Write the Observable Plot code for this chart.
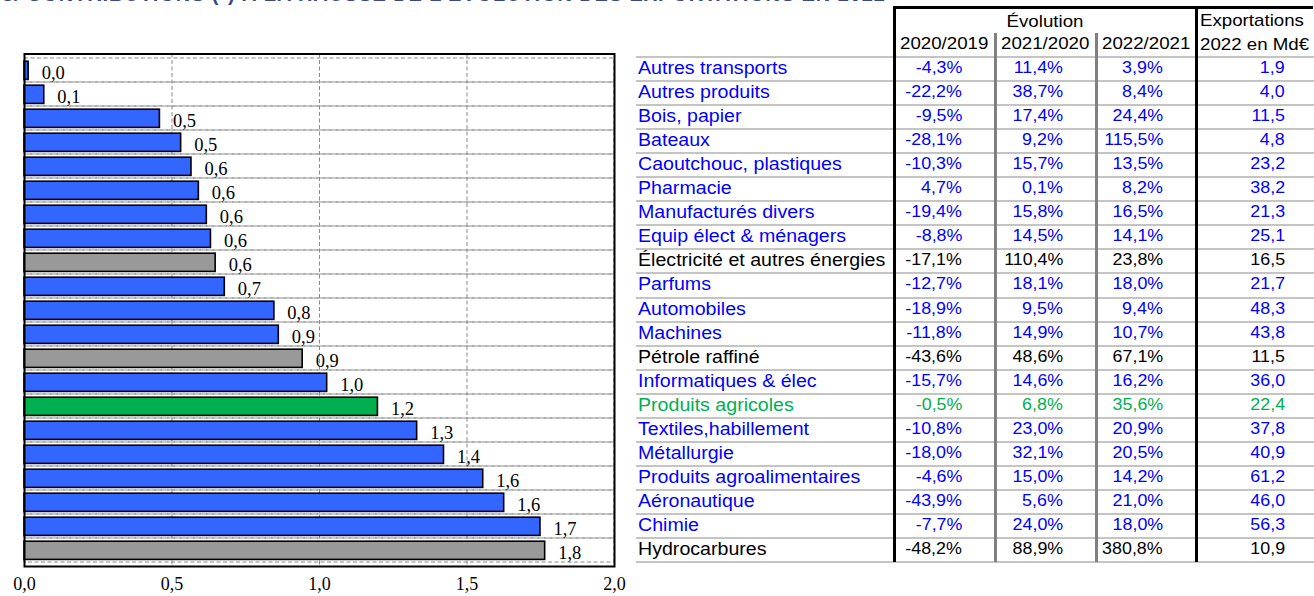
<!DOCTYPE html>
<html><head><meta charset="utf-8">
<script src="https://cdn.jsdelivr.net/npm/d3@7"></script>
<script src="https://cdn.jsdelivr.net/npm/@observablehq/plot@0.6"></script>
<style>
html,body{margin:0;padding:0;background:#fff;width:1314px;height:596px;overflow:hidden;position:relative}
#title{position:absolute;left:2px;top:-17px;font:bold 20px "Liberation Sans",Arial,sans-serif;color:#3a4888;white-space:nowrap;letter-spacing:0.9px;z-index:5;line-height:23px}
#chart{position:absolute;left:0;top:0}
#table{position:absolute;left:0;top:0;width:1314px;height:596px}
.ln{position:absolute}
.txt{position:absolute;white-space:nowrap;font-family:"Liberation Sans",Arial,sans-serif}
.txt span{display:inline-block}
</style></head><body>
<div id="chart"></div>
<div id="table"></div>
<div id="title">3/ CONTRIBUTIONS (*) À LA HAUSSE DE L'ÉVOLUTION DES EXPORTATIONS EN 2022</div>
<script>
// ---- data ----
const categories = ["Autres transports","Autres produits","Bois, papier","Bateaux","Caoutchouc, plastiques","Pharmacie","Manufacturés divers","Equip élect & ménagers","Électricité et autres énergies","Parfums","Automobiles","Machines","Pétrole raffiné","Informatiques & élec","Produits agricoles","Textiles,habillement","Métallurgie","Produits agroalimentaires","Aéronautique","Chimie","Hydrocarbures"];
const contributions = [0.014,0.067,0.459,0.531,0.566,0.591,0.618,0.632,0.648,0.679,0.847,0.862,0.943,1.026,1.198,1.331,1.422,1.555,1.626,1.749,1.765];
const groups = ["Industrie","Industrie","Industrie","Industrie","Industrie","Industrie","Industrie","Industrie","Énergie","Industrie","Industrie","Industrie","Énergie","Industrie","Agriculture","Industrie","Industrie","Industrie","Industrie","Industrie","Énergie"];
const evol2020 = ["-4,3%","-22,2%","-9,5%","-28,1%","-10,3%","4,7%","-19,4%","-8,8%","-17,1%","-12,7%","-18,9%","-11,8%","-43,6%","-15,7%","-0,5%","-10,8%","-18,0%","-4,6%","-43,9%","-7,7%","-48,2%"];
const evol2021 = ["11,4%","38,7%","17,4%","9,2%","15,7%","0,1%","15,8%","14,5%","110,4%","18,1%","9,5%","14,9%","48,6%","14,6%","6,8%","23,0%","32,1%","15,0%","5,6%","24,0%","88,9%"];
const evol2022 = ["3,9%","8,4%","24,4%","115,5%","13,5%","8,2%","16,5%","14,1%","23,8%","18,0%","9,4%","10,7%","67,1%","16,2%","35,6%","20,9%","20,5%","14,2%","21,0%","18,0%","380,8%"];
const exports2022 = ["1,9","4,0","11,5","4,8","23,2","38,2","21,3","25,1","16,5","21,7","48,3","43,8","11,5","36,0","22,4","37,8","40,9","61,2","46,0","56,3","10,9"];
const xTicks = [0, 0.5, 1, 1.5, 2];
const groupDomain = ["Industrie","Énergie","Agriculture"];
const barColors = ["#3366FF","#999999","#00B050"];
const textColors = ["#0000FF","#000000","#00B050"];
const headerTop = "Évolution";
const headerYears = ["2020/2019","2021/2020","2022/2021"];
const headerExport = ["Exportations","2022 en Md€"];

const rows = categories.map((c,i)=>({cat:c, v:contributions[i], g:groups[i]}));
const fmt = d => d3.format(".1f")(d).replace(".", ",");

// ---- bar chart ----
const dash = "4,2.5";
const chart = Plot.plot({
  width: 630, height: 596,
  marginTop: 53.5, marginBottom: 30, marginLeft: 24, marginRight: 16,
  style: {fontFamily: "'Liberation Serif','Times New Roman',serif", fontSize: "18px", color: "#000", background: "transparent"},
  x: {domain: [0, 2], ticks: xTicks, tickFormat: fmt, tickSize: 0, tickPadding: 11, label: null},
  y: {domain: categories, padding: 0, axis: null},
  color: {domain: groupDomain, range: barColors},
  marks: [
    Plot.barX(rows, {x1: 0, x2: 2, y: "cat", fill: "none", stroke: "#8a8a8a", strokeWidth: 1, strokeDasharray: dash}),
    Plot.ruleX(xTicks.slice(1, -1), {stroke: "#8a8a8a", strokeWidth: 1, strokeDasharray: dash}),
    Plot.barX(rows, {x: "v", y: "cat", fill: "g", stroke: "#000", strokeWidth: 1.6, insetTop: 3.2, insetBottom: 2.6}),
    Plot.frame({stroke: "#000", strokeWidth: 2}),
    Plot.text(rows, {x: "v", y: "cat", text: d => fmt(d.v), textAnchor: "start", dx: 13, dy: 3, fill: "#000", fontSize: 18.5})
  ]
});
document.getElementById("chart").appendChild(chart);

// ---- table ----
const tbl = d3.select("#table");
const rowTop = 57, rowH = 24.05, n = categories.length;
const colEdges = [635, 894, 995, 1096, 1196, 1330];
const numRight = [962, 1063, 1163, 1285];
const tColor = g => textColors[groupDomain.indexOf(g)];

function line(x, y, w, h, color) {
  tbl.append("div").attr("class", "ln")
    .style("left", x + "px").style("top", y + "px")
    .style("width", w + "px").style("height", h + "px").style("background", color);
}
function text(str, opts) {
  const d = tbl.append("div").attr("class", "txt")
    .style("top", opts.top + "px").style("height", opts.h + "px")
    .style("line-height", opts.h + "px").style("font-size", opts.size + "px")
    .style("color", opts.color || "#000");
  if (opts.align === "left") d.style("left", opts.x + "px");
  else if (opts.align === "right") d.style("left", (opts.x - 300) + "px").style("width", "300px").style("text-align", "right");
  else d.style("left", (opts.x - 150) + "px").style("width", "300px").style("text-align", "center");
  d.append("span").text(str)
    .style("transform", `scaleX(${opts.sx || 1})`)
    .style("transform-origin", opts.align === "left" ? "left center" : opts.align === "right" ? "right center" : "center center");
}

// horizontal row lines
for (let i = 0; i <= n; i++) line(636, rowTop + i * rowH - 1, 1314 - 636, 2, "#c4c4c4");
// vertical lines & header border
line(colEdges[1] - 1, 7, 2.5, rowTop + n * rowH - 7, "#000");
line(colEdges[2] - 1, 33, 2.5, rowTop + n * rowH - 33, "#808080");
line(colEdges[3] - 1, 33, 2.5, rowTop + n * rowH - 33, "#808080");
line(colEdges[4] - 1, 7, 2.5, rowTop + n * rowH - 7, "#000");
line(colEdges[1] - 1, 6, 1314 - colEdges[1], 2.5, "#000");

// header
text(headerTop, {x: (colEdges[1] + colEdges[4]) / 2, top: 12, h: 20, size: 17, align: "center", sx: 1.1});
headerYears.forEach((t, j) => text(t, {x: (colEdges[j + 1] + colEdges[j + 2]) / 2, top: 34, h: 20, size: 17, align: "center", sx: 1.1}));
text(headerExport[0], {x: 1200, top: 11, h: 20, size: 17, align: "left", sx: 1.1});
text(headerExport[1], {x: 1200, top: 35, h: 20, size: 17, align: "left", sx: 1.1});

// body
const cols = [evol2020, evol2021, evol2022, exports2022];
categories.forEach((c, i) => {
  const top = rowTop + i * rowH - 1, col = tColor(groups[i]);
  text(c, {x: 638, top, h: rowH, size: 17.5, align: "left", sx: 1.12, color: col});
  cols.forEach((arr, j) => text(arr[i], {x: numRight[j], top, h: rowH, size: 17, align: "right", sx: 1.05, color: col}));
});
</script>
</body></html>
